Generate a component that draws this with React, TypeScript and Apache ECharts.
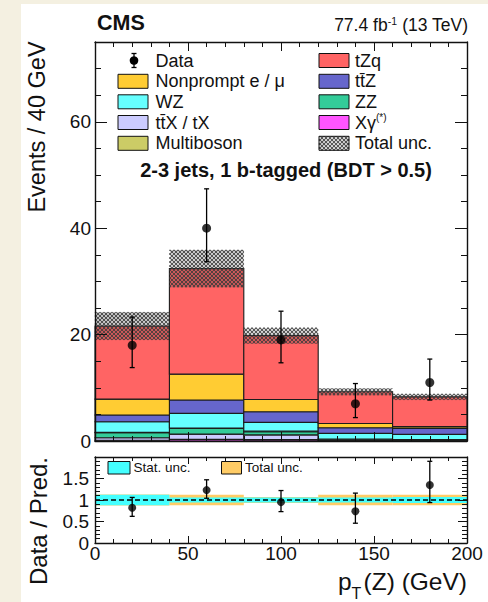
import React, { useEffect, useRef } from "react";
import * as echarts from "echarts";

const FONT = '"Liberation Sans", Arial, Helvetica, sans-serif';
const INK = "#111111";

// Binning in pT(Z), GeV
const binEdges = [0, 40, 80, 120, 160, 200];
const binCenters = [20, 60, 100, 140, 180];

// Expected yields per bin, stacked from the bottom up
const xGammaYield = [0.15, 0.3, 0.25, 0.05, 0.05];
const ttXYield = [0.45, 1.0, 0.9, 0.15, 0.1];
const zzYield = [0.95, 1.05, 0.6, 0.1, 0.05];
const multibosonYield = [0.08, 0.08, 0.1, 0.05, 0.05];
const wzYield = [1.99, 2.77, 1.65, 1.09, 1.0];
const ttZYield = [1.26, 2.5, 2.0, 1.06, 1.13];
const nonpromptYield = [3.0, 4.87, 2.3, 0.8, 0.32];
const tZqYield = [13.72, 19.83, 12.0, 5.95, 5.6];
const totalUnc = [2.6, 3.5, 1.5, 0.65, 0.55];

// Observed events with asymmetric (Poisson) errors
const dataCounts = [18, 40, 19, 7, 11];
const dataErrDown = [4.2, 6.3, 4.3, 2.6, 3.3];
const dataErrUp = [5.3, 7.4, 5.4, 3.8, 4.4];

// Ratio panel
const ratioValues = [0.82, 1.23, 0.95, 0.74, 1.35];
const ratioErrDown = [0.2, 0.19, 0.22, 0.28, 0.41];
const ratioErrUp = [0.24, 0.24, 0.27, 0.42, 0.55];
const statUncRel = [0.12, 0.06, 0.06, 0.06, 0.07];
const totalUncRel = [0.13, 0.12, 0.07, 0.12, 0.12];

// Tick labels
const xTickLabels = [0, 50, 100, 150, 200];
const mainYTickLabels = [0, 20, 40, 60];
const ratioYTickLabels = [0, 0.5, 1, 1.5];

const layers = [
  { name: "Xγ", values: xGammaYield, color: "#ff55ff" },
  { name: "tt̄X / tX", values: ttXYield, color: "#ccccff" },
  { name: "ZZ", values: zzYield, color: "#33cc99" },
  { name: "Multiboson", values: multibosonYield, color: "#cccc66" },
  { name: "WZ", values: wzYield, color: "#66ffff" },
  { name: "tt̄Z", values: ttZYield, color: "#6666cc" },
  { name: "Nonprompt e / μ", values: nonpromptYield, color: "#ffcc33" },
  { name: "tZq", values: tZqYield, color: "#ff6464" },
];

const HATCH_STROKE = "rgba(60,60,60,0.85)";

// Cross-hatch segments clipped to a pixel rectangle
function hatchSegments(x: number, y: number, w: number, h: number, s: number) {
  const out: any[] = [];
  const style = { stroke: HATCH_STROKE, lineWidth: 1.1 };
  const c1min = x - (y + h);
  const c1max = x + w - y;
  for (let c = Math.ceil(c1min / s) * s; c <= c1max; c += s) {
    const xs = Math.max(x, y + c);
    const xe = Math.min(x + w, y + h + c);
    if (xe > xs) out.push({ type: "line", silent: true, shape: { x1: xs, y1: xs - c, x2: xe, y2: xe - c }, style });
  }
  const c2min = x + y;
  const c2max = x + w + y + h;
  for (let c = Math.ceil(c2min / s) * s; c <= c2max; c += s) {
    const xs = Math.max(x, c - (y + h));
    const xe = Math.min(x + w, c - y);
    if (xe > xs) out.push({ type: "line", silent: true, shape: { x1: xs, y1: c - xs, x2: xe, y2: c - xe }, style });
  }
  return out;
}

const rectRenderer = (fill: string, stroke: string | null, lw: number) => (_p: any, api: any) => {
  const a = api.coord([api.value(0), api.value(2)]);
  const b = api.coord([api.value(1), api.value(3)]);
  return {
    type: "rect",
    shape: { x: a[0], y: b[1], width: b[0] - a[0], height: a[1] - b[1] },
    style: stroke ? { fill, stroke, lineWidth: lw } : { fill, lineWidth: 0 },
  };
};

const hatchRenderer = (_p: any, api: any) => {
  const a = api.coord([api.value(0), api.value(2)]);
  const b = api.coord([api.value(1), api.value(3)]);
  return { type: "group", children: hatchSegments(a[0], b[1], b[0] - a[0], a[1] - b[1], 4) };
};

const errorBarRenderer = (cap: number) => (_p: any, api: any) => {
  const x = api.value(0);
  const y = api.value(1);
  const top = api.coord([x, y + api.value(3)]);
  const bot = api.coord([x, y - api.value(2)]);
  const st = { stroke: "#000", lineWidth: 1.3 };
  return {
    type: "group",
    children: [
      { type: "line", shape: { x1: top[0], y1: top[1], x2: bot[0], y2: bot[1] }, style: st },
      { type: "line", shape: { x1: top[0] - cap, y1: top[1], x2: top[0] + cap, y2: top[1] }, style: st },
      { type: "line", shape: { x1: bot[0] - cap, y1: bot[1], x2: bot[0] + cap, y2: bot[1] }, style: st },
    ],
  };
};

function axis(extra: any) {
  return {
    type: "value",
    z: 3,
    axisLine: { show: true, onZero: false, lineStyle: { color: INK, width: 1.4 } },
    axisTick: { show: true, inside: true, length: 9, lineStyle: { color: INK, width: 1 } },
    minorTick: { show: true, splitNumber: 5, length: 5, lineStyle: { color: INK, width: 1 } },
    splitLine: { show: false },
    minorSplitLine: { show: false },
    axisLabel: { show: false },
    ...extra,
  };
}

function buildOption() {
  const series: any[] = [];

  // stacked expectation
  const base = binCenters.map(() => 0);
  layers.forEach((layer) => {
    const rows = layer.values.map((v, i) => {
      const row = [binEdges[i], binEdges[i + 1], base[i], base[i] + v];
      base[i] += v;
      return row;
    });
    series.push({
      type: "custom",
      name: layer.name,
      xAxisIndex: 0,
      yAxisIndex: 0,
      z: 1,
      encode: { x: [0, 1], y: [2, 3] },
      data: rows,
      renderItem: rectRenderer(layer.color, "#1c1c1c", 1.1),
    });
  });
  const totals = base.slice();

  series.push({
    type: "custom",
    name: "Total unc.",
    xAxisIndex: 0,
    yAxisIndex: 0,
    z: 1,
    encode: { x: [0, 1], y: [2, 3] },
    data: totals.map((t, i) => [binEdges[i], binEdges[i + 1], t - totalUnc[i], t + totalUnc[i]]),
    renderItem: hatchRenderer,
  });

  series.push({
    type: "custom",
    xAxisIndex: 0,
    yAxisIndex: 0,
    z: 4,
    encode: { x: 0, y: 1 },
    data: dataCounts.map((d, i) => [binCenters[i], d, dataErrDown[i], dataErrUp[i]]),
    renderItem: errorBarRenderer(2.5),
  });
  series.push({
    type: "scatter",
    name: "Data",
    xAxisIndex: 0,
    yAxisIndex: 0,
    z: 5,
    symbol: "circle",
    symbolSize: 9,
    itemStyle: { color: "#000" },
    data: dataCounts.map((d, i) => [binCenters[i], d]),
  });

  // ratio panel
  series.push({
    type: "custom",
    xAxisIndex: 2,
    yAxisIndex: 2,
    z: 1,
    encode: { x: [0, 1], y: [2, 3] },
    data: totalUncRel.map((u, i) => [binEdges[i], binEdges[i + 1], 1 - u, 1 + u]),
    renderItem: rectRenderer("#ffcc66", null, 0),
  });
  series.push({
    type: "custom",
    xAxisIndex: 2,
    yAxisIndex: 2,
    z: 1,
    encode: { x: [0, 1], y: [2, 3] },
    data: statUncRel.map((u, i) => [binEdges[i], binEdges[i + 1], 1 - u, 1 + u]),
    renderItem: rectRenderer("#44ffff", null, 0),
  });
  series.push({
    type: "line",
    xAxisIndex: 2,
    yAxisIndex: 2,
    z: 2,
    symbol: "none",
    silent: true,
    lineStyle: { color: "#000", width: 1.3, type: [5, 3] },
    data: [
      [binEdges[0], 1],
      [binEdges[binEdges.length - 1], 1],
    ],
  });
  series.push({
    type: "custom",
    xAxisIndex: 2,
    yAxisIndex: 2,
    z: 4,
    encode: { x: 0, y: 1 },
    data: ratioValues.map((r, i) => [binCenters[i], r, ratioErrDown[i], ratioErrUp[i]]),
    renderItem: errorBarRenderer(2.5),
  });
  series.push({
    type: "scatter",
    xAxisIndex: 2,
    yAxisIndex: 2,
    z: 5,
    symbol: "circle",
    symbolSize: 8,
    itemStyle: { color: "#000" },
    data: ratioValues.map((r, i) => [binCenters[i], r]),
  });

  // legend
  const rowY = [60.5, 81.3, 101.8, 122.5, 143.3];
  const boxX = [118, 319];
  const textX = [155.5, 355];
  const leftCol = ["Data", "Nonprompt e / μ", "WZ", "tt̄X / tX", "Multiboson"];
  const rightCol = ["tZq", "tt̄Z", "ZZ", "Xγ", "Total unc."];
  const legendFont = 18;
  const g: any[] = [
    { type: "rect", shape: { x: 0, y: 0, width: 21, height: 602 }, style: { fill: "#f4f0e1" }, z: 0 },
    { type: "rect", shape: { x: 0, y: 0, width: 488, height: 4 }, style: { fill: "#f4f0e1" }, z: 0 },
  ];

  const addEntry = (label: string, col: number, row: number) => {
    const y = rowY[row];
    const bx = boxX[col];
    if (label === "Data") {
      const cx = bx + 16;
      g.push(
        { type: "line", shape: { x1: cx, y1: y - 7, x2: cx, y2: y + 7 }, style: { stroke: "#000", lineWidth: 1.3 } },
        { type: "line", shape: { x1: cx - 2.5, y1: y - 7, x2: cx + 2.5, y2: y - 7 }, style: { stroke: "#000", lineWidth: 1.3 } },
        { type: "line", shape: { x1: cx - 2.5, y1: y + 7, x2: cx + 2.5, y2: y + 7 }, style: { stroke: "#000", lineWidth: 1.3 } },
        { type: "circle", shape: { cx, cy: y, r: 4.3 }, style: { fill: "#000" } }
      );
    } else if (label === "Total unc.") {
      g.push({ type: "rect", shape: { x: bx, y: y - 7, width: 30, height: 14 }, style: { fill: "#fff" } });
      hatchSegments(bx, y - 7, 30, 14, 4).forEach((s) => g.push(s));
      g.push({ type: "rect", shape: { x: bx, y: y - 7, width: 30, height: 14 }, style: { fill: "none", stroke: INK, lineWidth: 1 } });
    } else {
      const layer = layers.find((l) => l.name === label)!;
      g.push({ type: "rect", shape: { x: bx, y: y - 7, width: 30, height: 14 }, style: { fill: layer.color, stroke: INK, lineWidth: 1 } });
    }
    if (label === "Xγ") {
      g.push({
        type: "text",
        x: textX[col],
        y,
        style: {
          text: "{a|Xγ}{s|(*)}",
          verticalAlign: "middle",
          align: "left",
          rich: {
            a: { fontSize: legendFont, fontFamily: FONT, fill: INK, lineHeight: 21 },
            s: { fontSize: 10, fontFamily: FONT, fill: INK, verticalAlign: "top", lineHeight: 12 },
          },
        },
      });
    } else {
      g.push({
        type: "text",
        x: textX[col],
        y,
        style: { text: label, fill: INK, font: `${legendFont}px ${FONT}`, align: "left", verticalAlign: "middle" },
      });
    }
  };
  leftCol.forEach((l, i) => addEntry(l, 0, i));
  rightCol.forEach((l, i) => addEntry(l, 1, i));

  g.push(
    {
      type: "text",
      x: 286,
      y: 170,
      style: { text: "2-3 jets, 1 b-tagged (BDT > 0.5)", fill: INK, font: `bold 20px ${FONT}`, align: "center", verticalAlign: "middle" },
    },
    {
      type: "text",
      x: 97,
      y: 23,
      style: { text: "CMS", fill: INK, font: `bold 21.5px ${FONT}`, align: "left", verticalAlign: "middle" },
    },
    {
      type: "text",
      x: 468,
      y: 25,
      style: {
        text: "{a|77.4 fb}{s|-1}{a| (13 TeV)}",
        align: "right",
        verticalAlign: "middle",
        rich: {
          a: { fontSize: 17.5, fontFamily: FONT, fill: INK, lineHeight: 20 },
          s: { fontSize: 10.5, fontFamily: FONT, fill: INK, verticalAlign: "top", lineHeight: 12 },
        },
      },
    },
    {
      type: "text",
      x: 37,
      y: 127,
      rotation: Math.PI / 2,
      style: { text: "Events / 40 GeV", fill: INK, font: `23.5px ${FONT}`, align: "center", verticalAlign: "middle" },
    },
    {
      type: "text",
      x: 38,
      y: 521,
      rotation: Math.PI / 2,
      style: { text: "Data / Pred.", fill: INK, font: `24px ${FONT}`, align: "center", verticalAlign: "middle" },
    },
    { type: "text", x: 338, y: 581, style: { text: "p", fill: INK, font: `24.5px ${FONT}`, align: "left", verticalAlign: "middle" } },
    { type: "text", x: 351.5, y: 593, style: { text: "T", fill: INK, font: `16px ${FONT}`, align: "left", verticalAlign: "middle" } },
    { type: "text", x: 467, y: 581, style: { text: "(Z) (GeV)", fill: INK, font: `24.5px ${FONT}`, align: "right", verticalAlign: "middle" } }
  );

  // ratio legend
  const rl = [
    { label: "Stat. unc.", color: "#44ffff", x: 108, w: 22, tx: 133.5 },
    { label: "Total unc.", color: "#ffcc66", x: 221.5, w: 20, tx: 245 },
  ];
  rl.forEach((e) => {
    g.push(
      { type: "rect", shape: { x: e.x, y: 461.5, width: e.w, height: 12.5 }, style: { fill: e.color, stroke: INK, lineWidth: 1 } },
      { type: "text", x: e.tx, y: 467.5, style: { text: e.label, fill: INK, font: `13.5px ${FONT}`, align: "left", verticalAlign: "middle" } }
    );
  });

  const labelStyle = { color: INK, fontSize: 19, fontFamily: FONT };

  return {
    animation: false,
    backgroundColor: "#ffffff",
    textStyle: { fontFamily: FONT },
    grid: [
      { left: 95, top: 42, width: 372, height: 399 },
      { left: 95, top: 457, width: 372, height: 86 },
    ],
    xAxis: [
      axis({ gridIndex: 0, min: 0, max: 200, interval: 50, position: "bottom" }),
      axis({ gridIndex: 0, min: 0, max: 200, interval: 50, position: "top" }),
      axis({
        gridIndex: 1,
        min: 0,
        max: 200,
        interval: 50,
        position: "bottom",
        axisTick: { show: true, inside: true, length: 7, lineStyle: { color: INK, width: 1 } },
        minorTick: { show: true, splitNumber: 5, length: 4, lineStyle: { color: INK, width: 1 } },
        axisLabel: {
          show: true,
          margin: 1,
          ...labelStyle,
          formatter: (v: number) => (xTickLabels.includes(v) ? String(v) : ""),
        },
      }),
      axis({
        gridIndex: 1,
        min: 0,
        max: 200,
        interval: 50,
        position: "top",
        axisTick: { show: true, inside: true, length: 7, lineStyle: { color: INK, width: 1 } },
        minorTick: { show: true, splitNumber: 5, length: 4, lineStyle: { color: INK, width: 1 } },
      }),
    ],
    yAxis: [
      axis({
        gridIndex: 0,
        min: 0,
        max: 75,
        interval: 20,
        position: "left",
        axisTick: { show: true, inside: true, length: 12, lineStyle: { color: INK, width: 1 } },
        minorTick: { show: true, splitNumber: 4, length: 6, lineStyle: { color: INK, width: 1 } },
        axisLabel: {
          show: true,
          margin: 4,
          ...labelStyle,
          formatter: (v: number) => (mainYTickLabels.includes(v) ? String(v) : ""),
        },
      }),
      axis({
        gridIndex: 0,
        min: 0,
        max: 75,
        interval: 20,
        position: "right",
        axisTick: { show: true, inside: true, length: 12, lineStyle: { color: INK, width: 1 } },
        minorTick: { show: true, splitNumber: 4, length: 6, lineStyle: { color: INK, width: 1 } },
      }),
      axis({
        gridIndex: 1,
        min: 0,
        max: 2,
        interval: 0.5,
        position: "left",
        axisTick: { show: true, inside: true, length: 9, lineStyle: { color: INK, width: 1 } },
        minorTick: { show: true, splitNumber: 5, length: 5, lineStyle: { color: INK, width: 1 } },
        axisLabel: {
          show: true,
          margin: 6,
          ...labelStyle,
          formatter: (v: number) => (ratioYTickLabels.includes(v) ? String(v) : ""),
        },
      }),
      axis({
        gridIndex: 1,
        min: 0,
        max: 2,
        interval: 0.5,
        position: "right",
        axisTick: { show: true, inside: true, length: 9, lineStyle: { color: INK, width: 1 } },
        minorTick: { show: true, splitNumber: 5, length: 5, lineStyle: { color: INK, width: 1 } },
      }),
    ],
    series,
    graphic: g,
  };
}

export default function App() {
  const ref = useRef<HTMLDivElement>(null);
  useEffect(() => {
    document.body.style.margin = "0";
    const chart = echarts.init(ref.current!, null, { renderer: "svg" });
    chart.setOption(buildOption() as any);
    return () => chart.dispose();
  }, []);
  return <div ref={ref} style={{ width: 488, height: 602 }} />;
}
